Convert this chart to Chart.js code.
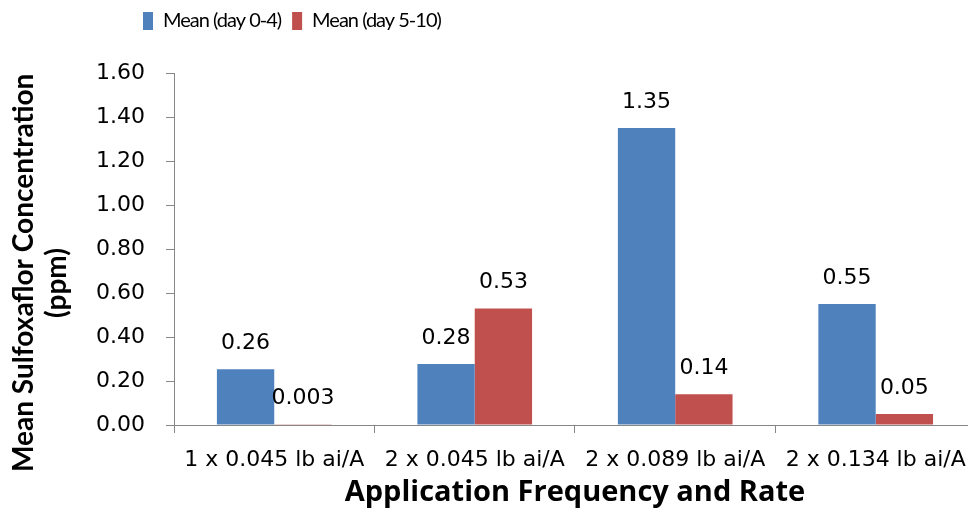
<!DOCTYPE html>
<html lang="en">
<head>
    <meta charset="UTF-8">
    <title>Mean Sulfoxaflor Concentration</title>
    <script src="https://cdn.jsdelivr.net/npm/chart.js"></script>
    <style>
        html, body { margin: 0; padding: 0; overflow: hidden; background: #fff; }
        #wrap { width: 980px; height: 520px; }
    </style>
</head>
<body>
    <div id="wrap"><canvas id="concChart"></canvas></div>

    <script>
        const categories = ['1 x 0.045 lb ai/A', '2 x 0.045 lb ai/A', '2 x 0.089 lb ai/A', '2 x 0.134 lb ai/A'];
        const seriesNames = ['Mean (day 0-4)', 'Mean (day 5-10)'];
        const earlyValues = [0.253, 0.277, 1.35, 0.55];
        const lateValues = [0.003, 0.53, 0.14, 0.05];
        const earlyLabels = ['0.26', '0.28', '1.35', '0.55'];
        const lateLabels = ['0.003', '0.53', '0.14', '0.05'];
        const yTicks = { min: 0, max: 1.6, step: 0.2 };

        const tickFont = { family: 'DejaVu Sans', size: 22 };
        const axisGray = '#868686';

        // value labels above each bar
        const barLabels = {
            id: 'barLabels',
            afterDatasetsDraw(chart) {
                const ctx = chart.ctx;
                const texts = [earlyLabels, lateLabels];
                ctx.save();
                ctx.font = '22px "DejaVu Sans"';
                ctx.fillStyle = '#000';
                ctx.textAlign = 'center';
                ctx.textBaseline = 'middle';
                chart.data.datasets.forEach((ds, d) => {
                    chart.getDatasetMeta(d).data.forEach((bar, i) => {
                        ctx.fillText(texts[d][i], bar.x, bar.y - 26);
                    });
                });
                ctx.restore();
            }
        };

        // legend: fixed height, sits left of centre, tighter letters (condensed look of the original)
        const legendPos = {
            id: 'legendPos',
            beforeLayout(chart) {
                const lg = chart.legend;
                if (lg && !lg._patched) {
                    const fit = lg.fit.bind(lg);
                    const draw = lg.draw.bind(lg);
                    lg.fit = function () {
                        chart.ctx.letterSpacing = '-1px';
                        fit();
                        chart.ctx.letterSpacing = '0px';
                        this.height = 73;
                    };
                    lg.draw = function () {
                        chart.ctx.letterSpacing = '-1px';
                        draw();
                        chart.ctx.letterSpacing = '0px';
                    };
                    lg._patched = true;
                }
            },
            afterLayout(chart) {
                const lg = chart.legend;
                const w = lg.right - lg.left;
                lg.left = 132;
                lg.right = lg.left + w;
            }
        };

        new Chart(document.getElementById('concChart'), {
            type: 'bar',
            data: {
                labels: categories,
                datasets: [
                    { label: seriesNames[0], data: earlyValues, backgroundColor: '#4F81BD' },
                    { label: seriesNames[1], data: lateValues, backgroundColor: '#C0504D' }
                ]
            },
            options: {
                responsive: true,
                maintainAspectRatio: false,
                animation: false,
                layout: { padding: { left: 0, right: 2, top: 0, bottom: 0 } },
                datasets: { bar: { categoryPercentage: 0.572, barPercentage: 1.0 } },
                plugins: {
                    tooltip: { enabled: false },
                    legend: {
                        position: 'top',
                        align: 'start',
                        labels: {
                            boxWidth: 10,
                            boxHeight: 18,
                            padding: 11,
                            color: '#000',
                            font: { family: 'Lato', size: 20 }
                        }
                    }
                },
                scales: {
                    x: {
                        afterFit(scale) { scale.height = 95; },
                        grid: { offset: true, drawOnChartArea: false, drawTicks: true, tickLength: 8, color: axisGray },
                        border: { color: axisGray },
                        ticks: { color: '#000', font: tickFont, padding: 14, maxRotation: 0 },
                        title: {
                            display: true,
                            text: 'Application Frequency and Rate',
                            color: '#000',
                            font: { family: 'Open Sans', size: 29, weight: 'bold' },
                            padding: { top: 0, bottom: 10 }
                        }
                    },
                    y: {
                        min: yTicks.min,
                        max: yTicks.max,
                        afterFit(scale) { scale.width = 174; },
                        grid: { drawOnChartArea: false, drawTicks: true, tickLength: 8, color: axisGray },
                        border: { color: axisGray },
                        ticks: {
                            stepSize: yTicks.step,
                            color: '#000',
                            font: tickFont,
                            padding: 21,
                            callback: v => v.toFixed(2)
                        },
                        title: {
                            display: true,
                            // trailing spaces push the rotated title down, as in the original
                            text: ['Mean Sulfoxaflor Concentration       ', '(ppm)          '],
                            color: '#000',
                            font: { family: 'Lato', size: 28, weight: 'bold' },
                            lineHeight: 1.22,
                            padding: { top: 7, bottom: 0 }
                        }
                    }
                }
            },
            plugins: [barLabels, legendPos]
        });
    </script>
</body>
</html>
